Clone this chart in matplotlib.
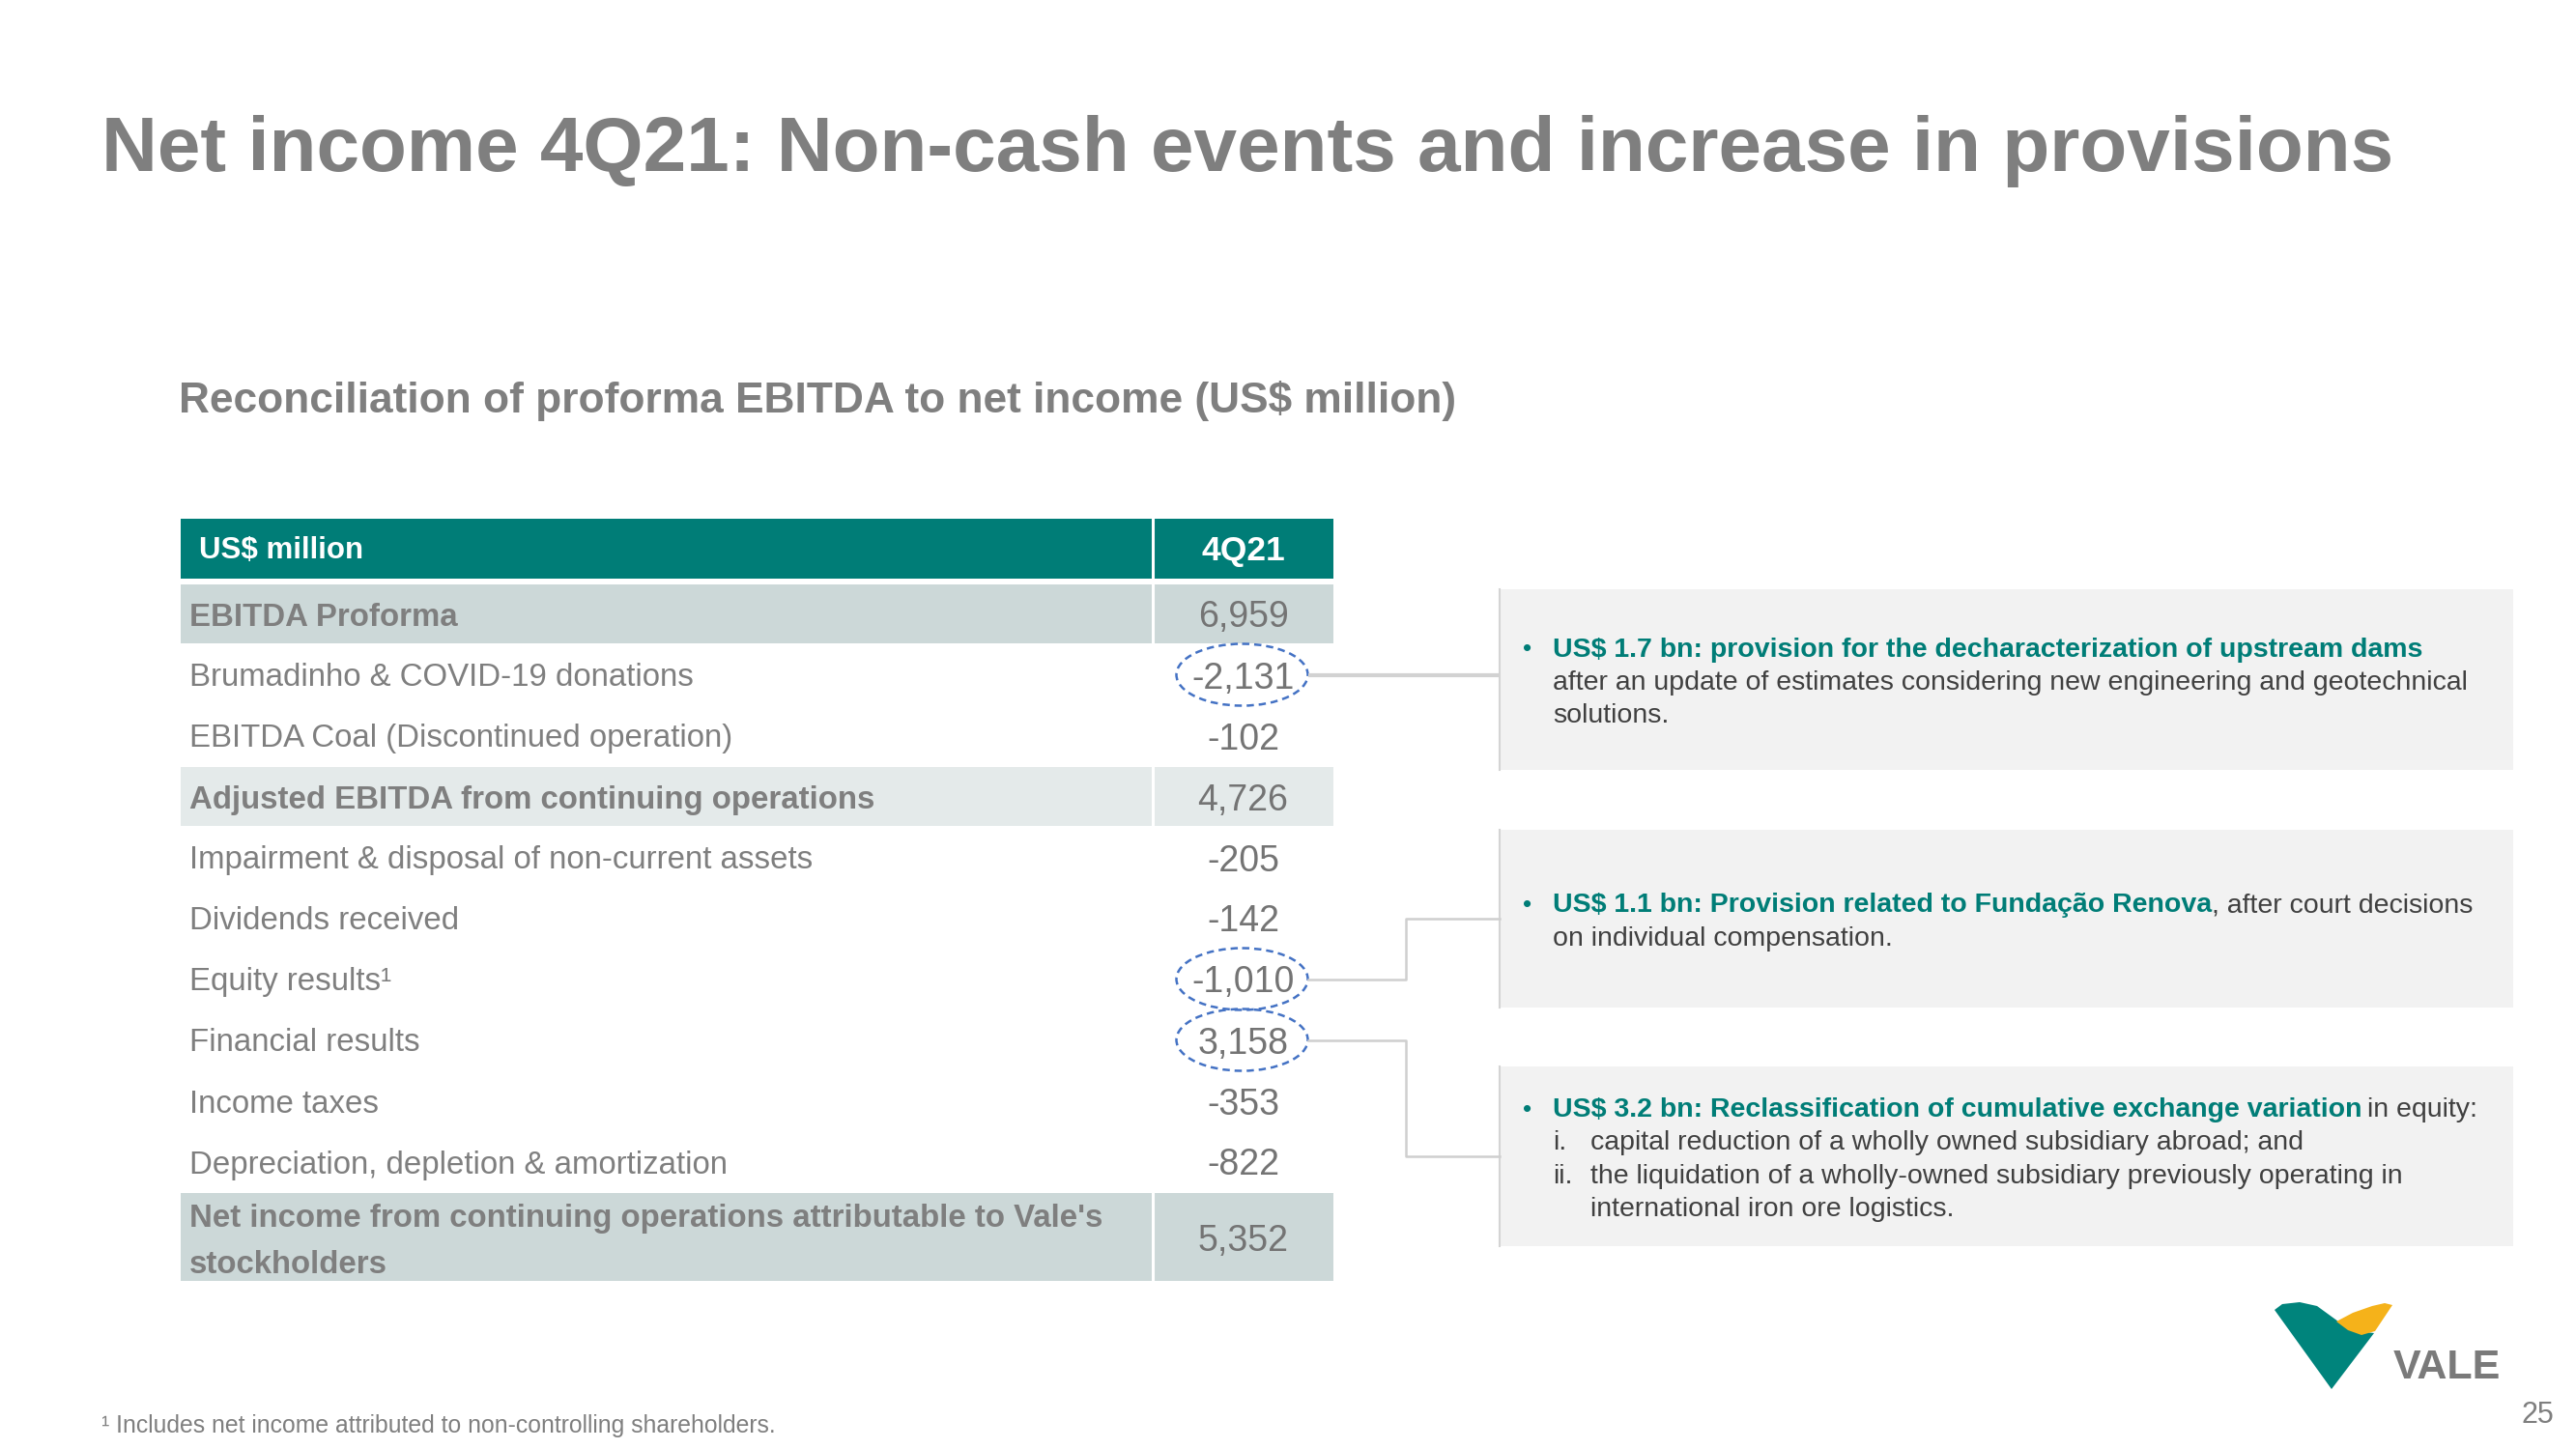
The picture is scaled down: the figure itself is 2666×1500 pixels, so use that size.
import matplotlib
matplotlib.use('Agg')
import matplotlib.pyplot as plt
from matplotlib.patches import Rectangle, Ellipse, Polygon

plt.rcParams['font.family'] = ['Liberation Sans', 'DejaVu Sans']
plt.rcParams['text.parse_math'] = False

# ---- data ----
title = 'Net income 4Q21: Non-cash events and increase in provisions'
subtitle = 'Reconciliation of proforma EBITDA to net income (US$ million)'
header = ['US$ million', '4Q21']
row_labels = ['EBITDA Proforma',
              'Brumadinho & COVID-19 donations',
              'EBITDA Coal (Discontinued operation)',
              'Adjusted EBITDA from continuing operations',
              'Impairment & disposal of non-current assets',
              'Dividends received',
              'Equity results\u00b9',
              'Financial results',
              'Income taxes',
              'Depreciation, depletion & amortization',
              "Net income from continuing operations attributable to Vale's\nstockholders"]
row_values = [6959, -2131, -102, 4726, -205, -142, -1010, 3158, -353, -822, 5352]
bold_rows = [0, 3, 10]
circled_rows = [1, 6, 7]

# each callout: list of (marker, indent level, [(text, highlighted), ...])
callouts = [
    [('\u2022', 0, [('US$ 1.7 bn: provision for the decharacterization of upstream dams', True)]),
     ('', 0, [('after an update of estimates considering new engineering and geotechnical', False)]),
     ('', 0, [('solutions.', False)])],
    [('\u2022', 0, [('US$ 1.1 bn: Provision related to Funda\u00e7\u00e3o Renova', True),
                    (', after court decisions', False)]),
     ('', 0, [('on individual compensation.', False)])],
    [('\u2022', 0, [('US$ 3.2 bn: Reclassification of cumulative exchange variation', True),
                    (' in equity:', False)]),
     ('i.', 1, [('capital reduction of a wholly owned subsidiary abroad; and', False)]),
     ('ii.', 1, [('the liquidation of a wholly-owned subsidiary previously operating in', False)]),
     ('', 1, [('international iron ore logistics.', False)])],
]
callout_rows = [1, 6, 7]
footnote = '\u00b9 Includes net income attributed to non-controlling shareholders.'
page_no = '25'

# ---- colours ----
TEAL = '#007d77'
GRAY = '#7f7f7f'
DARK = '#404040'
ROW_DARK = '#ccd8d8'
ROW_LIGHT = '#e4eaea'
BOX = '#f2f2f2'

W, H = 2666, 1500
fig = plt.figure(figsize=(W / 100, H / 100), dpi=100)
ax = fig.add_axes([0, 0, 1, 1])
ax.set_xlim(0, W)
ax.set_ylim(H, 0)
ax.axis('off')
renderer = fig.canvas.get_renderer()


def fit_width(t, target):
    w = t.get_window_extent(renderer).width
    t.set_fontsize(t.get_fontsize() * target / w)


# title / subtitle
t = ax.text(105, 177, title, fontsize=60, fontweight='bold', color=GRAY, va='baseline')
fit_width(t, 2375)
t = ax.text(185, 427, subtitle, fontsize=30, fontweight='bold', color=GRAY, va='baseline')
fit_width(t, 1323)

# ---- table ----
x0, xdiv, x1 = 187, 1193, 1380
head_top, head_h = 537, 62
row_top0, pitch, row_h = 605, 63, 61
val_x = (xdiv + x1) / 2

ax.add_patch(Rectangle((x0, head_top), x1 - x0, head_h, color=TEAL, lw=0))
ax.plot([xdiv, xdiv], [head_top, head_top + head_h], color='white', lw=2.2)
ax.text(206, head_top + head_h / 2 + 10, header[0], fontsize=22.5, fontweight='bold',
        color='white', va='baseline')
ax.text(val_x, head_top + head_h / 2 + 12, header[1], fontsize=25.5, fontweight='bold',
        color='white', va='baseline', ha='center')

row_centers = []
for i, (lab, v) in enumerate(zip(row_labels, row_values)):
    top = row_top0 + pitch * i
    h = 91 if '\n' in lab else row_h
    cy = top + h / 2
    row_centers.append(cy)
    bold = i in bold_rows
    if bold:
        fc = ROW_LIGHT if i == 3 else ROW_DARK
        ax.add_patch(Rectangle((x0, top), x1 - x0, h, color=fc, lw=0))
        ax.plot([xdiv, xdiv], [top, top + h], color='white', lw=2.2)
    if '\n' in lab:
        for k, part in enumerate(lab.split('\n')):
            ax.text(196, top + 35 + 48 * k, part, fontsize=23.8, fontweight='bold',
                    color=GRAY, va='baseline')
    else:
        ax.text(196, cy + 12, lab, fontsize=23.8,
                fontweight='bold' if bold else 'normal', color=GRAY, va='baseline')
    ax.text(val_x, cy + 14, f'{v:,}', fontsize=27, color='#747474',
            va='baseline', ha='center')

for i in circled_rows:
    ax.add_patch(Ellipse((val_x - 1, row_centers[i]), 136, 64, fill=False,
                         ec='#4472c4', lw=1.8, ls=(0, (3, 2))))

# ---- callout boxes ----
bx0, bx1 = 1552, 2601
boxes = [(610, 797), (859, 1043), (1104, 1290)]
mid_x = 1455
for ci, (lines, (btop, bbot), r) in enumerate(zip(callouts, boxes, callout_rows)):
    ax.add_patch(Rectangle((bx0, btop), bx1 - bx0, bbot - btop, color=BOX, lw=0))
    ax.plot([bx0, bx0], [btop, bbot], color='#d4d4d4', lw=1.5)
    bmid = (btop + bbot) / 2
    yr = row_centers[r]
    xs = val_x - 1 + 68
    if abs(bmid - yr) < 20:
        ax.plot([xs, bx0], [yr, yr], color='#d2d2d2', lw=3, solid_capstyle='butt')
    else:
        ax.plot([xs, mid_x, mid_x, bx0], [yr, yr, bmid, bmid], color='#cfcfcf', lw=1.8)
    n = len(lines)
    for k, (marker, level, segs) in enumerate(lines):
        y = bmid + 10.5 + (k - (n - 1) / 2) * 34.5
        tx = 1607 if level == 0 else 1646
        if marker == '\u2022':
            ax.text(1576, y, marker, fontsize=19, color=TEAL, va='baseline')
        elif marker:
            ax.text(1607, y, marker, fontsize=20.5, color=DARK, va='baseline')
        for txt, hi in segs:
            if txt.startswith(' '):
                tx += 6
            tt = ax.text(tx, y, txt.strip(), fontsize=20.5,
                         fontweight='bold' if hi else 'normal',
                         color=TEAL if hi else DARK, va='baseline')
            tx = tt.get_window_extent(renderer).x1

# ---- footer ----
t = ax.text(105, 1483, footnote, fontsize=15, color=GRAY, va='baseline')
fit_width(t, 700)
ax.text(2643, 1473, page_no, fontsize=22, color=GRAY, va='baseline', ha='right')

# logo
ax.add_patch(Polygon([(2354, 1356), (2362, 1350), (2380, 1348), (2398, 1352),
                      (2420, 1368), (2440, 1378), (2457, 1380), (2413, 1438)],
                     closed=True, color='#00847c', lw=0))
ax.add_patch(Polygon([(2418, 1368), (2435, 1359), (2455, 1352), (2468, 1349),
                      (2476, 1351), (2470, 1360), (2458, 1378), (2444, 1382),
                      (2430, 1377)], closed=True, color='#f5b21a', lw=0))
t = ax.text(2477, 1427, 'VALE', fontsize=31, fontweight='bold', color='#7a7a7a',
            va='baseline')
fit_width(t, 111)

fig.savefig('out.png', dpi=100, facecolor='white')
